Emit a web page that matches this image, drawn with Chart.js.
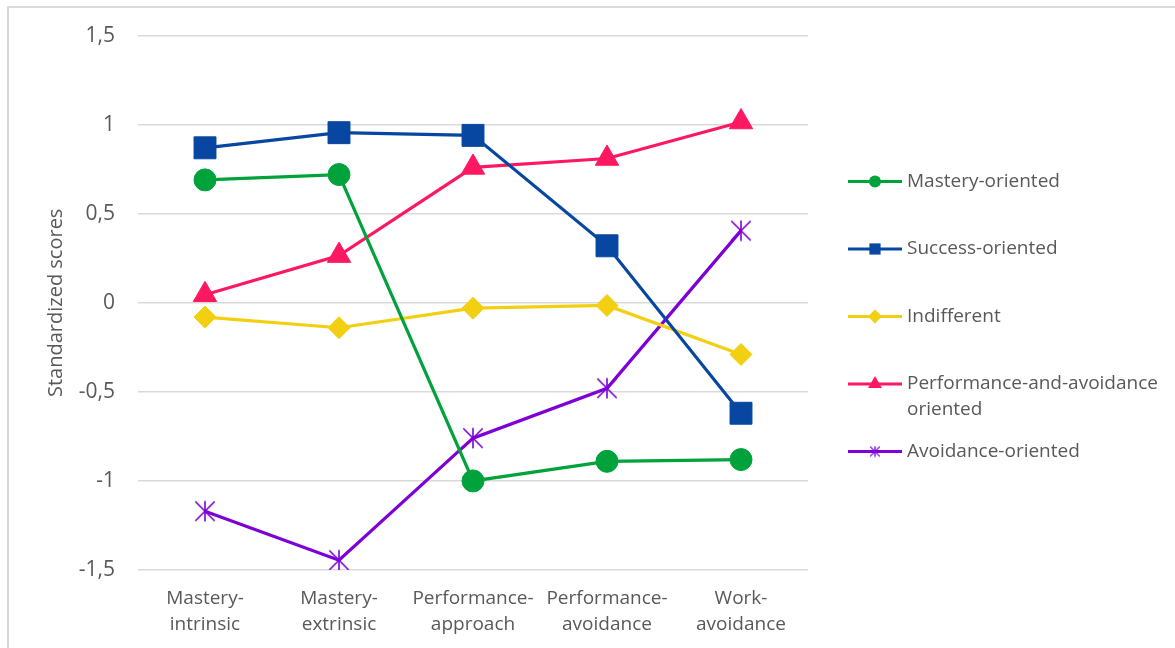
<!DOCTYPE html>
<html lang="en">
<head>
  <meta charset="UTF-8">
  <title>Standardized scores by goal profile</title>
  <script src="https://cdn.jsdelivr.net/npm/chart.js"></script>
  <style>
    html, body { margin: 0; padding: 0; background: #fff; }
    #wrap { position: relative; width: 1175px; height: 648px; overflow: hidden; }
    /* light frame around the chart, only top and left edges show */
    #frame {
      position: absolute; left: 7px; top: 6px; right: -20px; bottom: -20px;
      border-top: 2px solid #d9d9d9; border-left: 2px solid #d9d9d9;
    }
    #chart { position: absolute; left: 0; top: 0; }
  </style>
</head>
<body>
  <div id="wrap">
    <div id="frame"></div>
    <canvas id="chart" width="1175" height="648"></canvas>
  </div>

  <script>
    // --- data ---
    const categories = [
      ['Mastery-', 'intrinsic'],
      ['Mastery-', 'extrinsic'],
      ['Performance-', 'approach'],
      ['Performance-', 'avoidance'],
      ['Work-', 'avoidance']
    ];
    const seriesNames = [
      'Mastery-oriented',
      'Success-oriented',
      'Indifferent',
      'Performance-and-avoidance oriented',
      'Avoidance-oriented'
    ];
    const masteryOriented   = [0.69, 0.72, -1.00, -0.89, -0.88];
    const successOriented   = [0.87, 0.955, 0.94, 0.32, -0.62];
    const indifferent       = [-0.08, -0.14, -0.03, -0.015, -0.29];
    const perfAvoidOriented = [0.045, 0.265, 0.76, 0.81, 1.015];
    const avoidanceOriented = [-1.17, -1.445, -0.76, -0.48, 0.405];
    const yTickValues = [-1.5, -1, -0.5, 0, 0.5, 1, 1.5];

    const colors = ['#00a33b', '#0747a1', '#f2cf10', '#fe1862', '#7d00d6'];
    const FONT = '"Open Sans", sans-serif';
    const TEXT = '#595959';

    // asterisk-like marker (X plus a vertical stroke)
    function starImage(size, color, lw) {
      const c = document.createElement('canvas');
      c.width = size; c.height = size;
      const g = c.getContext('2d');
      g.strokeStyle = color;
      g.lineWidth = lw;
      const m = lw / 2 + 0.5, e = size - m, h = size / 2;
      g.beginPath();
      g.moveTo(m, m); g.lineTo(e, e);
      g.moveTo(e, m); g.lineTo(m, e);
      g.moveTo(h, m - 0.5); g.lineTo(h, e + 0.5);
      g.stroke();
      return c;
    }

    const bigStar = starImage(22, colors[4], 1.6);
    const smallStar = starImage(12, colors[4], 1.3);

    const pointStyles = ['circle', 'rect', 'rectRot', 'triangle', bigStar];
    const pointRadii = [11, 15.5, 11, 13.5, 11];
    const legendStyles = ['circle', 'rect', 'rectRot', 'triangle', smallStar];
    const legendRadii = [6, 8, 7, 8, 6];
    const seriesData = [masteryOriented, successOriented, indifferent, perfAvoidOriented, avoidanceOriented];

    // legend drawn at the right, line + marker like the office style
    const sideLegend = {
      id: 'sideLegend',
      afterDraw(chart) {
        const ctx = chart.ctx;
        ctx.save();
        ctx.font = '19px ' + FONT;
        ctx.textBaseline = 'middle';
        const x0 = 848, x1 = 902, tx = 907, maxW = 260, lh = 26;
        const cx = (x0 + x1) / 2;
        let y = 181.5;
        chart.data.datasets.forEach((ds, i) => {
          // wrap label
          const words = ds.label.split(' ');
          const lines = [];
          let cur = '';
          words.forEach(w => {
            const t = cur ? cur + ' ' + w : w;
            if (ctx.measureText(t).width > maxW && cur) { lines.push(cur); cur = w; }
            else cur = t;
          });
          lines.push(cur);

          ctx.strokeStyle = ds.borderColor;
          ctx.lineWidth = 3;
          ctx.beginPath();
          ctx.moveTo(x0, y); ctx.lineTo(x1, y);
          ctx.stroke();

          const st = legendStyles[i], r = legendRadii[i];
          ctx.fillStyle = ds.borderColor;
          if (typeof st === 'string') {
            ctx.beginPath();
            if (st === 'circle') ctx.arc(cx, y, r, 0, Math.PI * 2);
            else if (st === 'rect') ctx.rect(cx - r * 0.7, y - r * 0.7, r * 1.4, r * 1.4);
            else if (st === 'rectRot') { ctx.moveTo(cx, y - r); ctx.lineTo(cx + r, y); ctx.lineTo(cx, y + r); ctx.lineTo(cx - r, y); ctx.closePath(); }
            else { ctx.moveTo(cx, y - r); ctx.lineTo(cx + r * 0.87, y + r / 2); ctx.lineTo(cx - r * 0.87, y + r / 2); ctx.closePath(); }
            ctx.fill();
          } else {
            ctx.drawImage(st, cx - st.width / 2, y - st.height / 2);
          }
          ctx.fillStyle = TEXT;
          lines.forEach((ln, k) => ctx.fillText(ln, tx, y + k * lh));
          y += 67.5;
        });
        ctx.restore();
      }
    };

    function draw() {
      const ctx = document.getElementById('chart').getContext('2d');
      new Chart(ctx, {
        type: 'line',
        data: {
          labels: categories,
          datasets: seriesNames.map((name, i) => ({
            label: name,
            data: seriesData[i],
            borderColor: colors[i],
            backgroundColor: colors[i],
            borderWidth: 3.2,
            tension: 0,
            fill: false,
            pointStyle: pointStyles[i],
            pointRadius: pointRadii[i],
            pointHoverRadius: pointRadii[i],
            pointBorderWidth: i === 4 ? 0 : 1,
            pointBorderColor: colors[i],
            pointBackgroundColor: colors[i]
          }))
        },
        options: {
          responsive: false,
          animation: false,
          events: [],
          layout: { padding: { left: 0, top: 35, right: 367, bottom: 0 } },
          plugins: {
            legend: { display: false },
            tooltip: { enabled: false }
          },
          scales: {
            x: {
              offset: true,
              grid: { display: false, drawTicks: false, offset: true },
              border: { display: false },
              ticks: {
                font: { family: FONT, size: 19, lineHeight: 1.37 },
                color: TEXT,
                padding: 16,
                maxRotation: 0,
                autoSkip: false
              },
              afterFit(s) { s.height = 78; }
            },
            y: {
              min: -1.5,
              max: 1.5,
              afterBuildTicks(s) { s.ticks = yTickValues.map(v => ({ value: v })); },
              grid: { color: '#d9d9d9', lineWidth: 1.5, drawTicks: false },
              border: { display: false },
              ticks: {
                font: { family: FONT, size: 21 },
                color: TEXT,
                padding: 23,
                callback: v => String(v).replace('.', ',')
              },
              title: {
                display: true,
                text: 'Standardized scores',
                font: { family: FONT, size: 20 },
                color: TEXT,
                padding: { top: 44, bottom: 0 }
              },
              afterFit(s) { s.width = 138; }
            }
          }
        },
        plugins: [sideLegend]
      });
    }

    if (document.fonts && document.fonts.load) {
      document.fonts.load('18px "Open Sans"').then(draw, draw);
    } else {
      draw();
    }
  </script>
</body>
</html>
